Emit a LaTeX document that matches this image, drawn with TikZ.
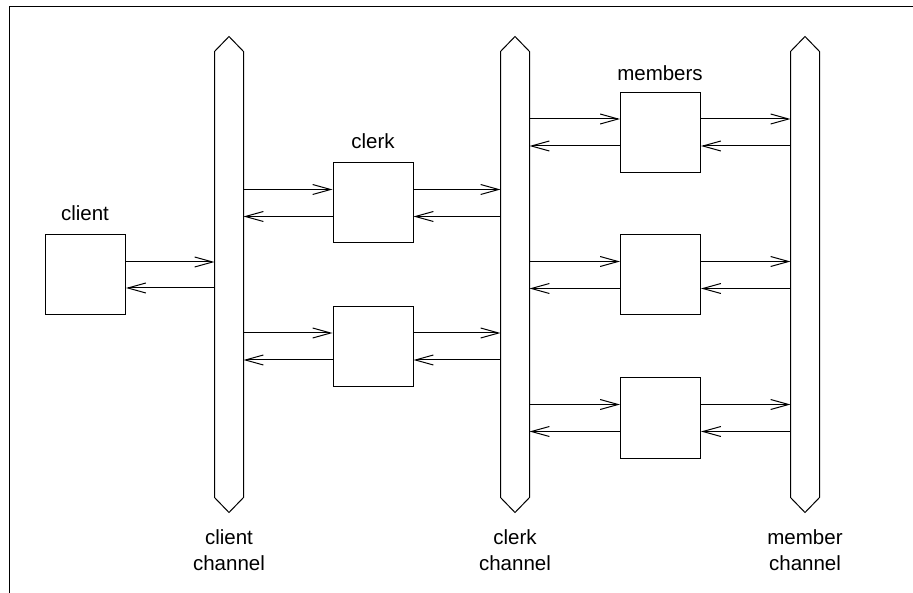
\documentclass[tikz,border=0pt]{standalone}
\usepackage{fontspec}
\setmainfont{Liberation Sans}
\usetikzlibrary{arrows.meta}

\begin{document}
\begin{tikzpicture}[x=1pt,y=-1pt,
    line width=1pt,
    every node/.style={font=\fontsize{20.5}{26}\selectfont, inner sep=0pt},
    proc/.style={draw, minimum width=80pt, minimum height=80pt},
    channel/.style={minimum width=28pt, minimum height=475pt},
    lbl/.style={align=center},
    msg/.style={-{Straight Barb[length=18pt,width=10pt,line width=1pt]}}]

  % canvas and frame
  \useasboundingbox (0,0) rectangle (913,593);
  \draw (913,7) -- (9,7) -- (9,593);

  % the three channels
  \node[channel] (cch) at (229,274.5) {};
  \node[channel] (kch) at (515,274.5) {};
  \node[channel] (mch) at (805,274.5) {};
  \foreach \c in {cch,kch,mch}
    \draw (\c.north) -- ([yshift=-15pt]\c.north east) -- ([yshift=15pt]\c.south east)
          -- (\c.south) -- ([yshift=15pt]\c.south west) -- ([yshift=-15pt]\c.north west) -- cycle;

  % processes
  \node[proc] (client) at (85.5,275) {};
  \node[proc] (clerkA) at (373,203) {};
  \node[proc] (clerkB) at (373,346.5) {};
  \node[proc] (memA) at (660.5,132.5) {};
  \node[proc] (memB) at (660.5,275) {};
  \node[proc] (memC) at (660.5,418) {};

  % labels
  \node (tclient) at (85,213) {client};
  \node (tclerk) at (373,141) {clerk};
  \node (tmembers) at (660,73) {members};
  \node[lbl] (tcch) at (229,550) {client\\channel};
  \node[lbl] (tkch) at (515,550) {clerk\\channel};
  \node[lbl] (tmch) at (805,550) {member\\channel};

  % client <-> client channel
  \draw[msg] ([yshift=13pt]client.east) coordinate (a) -- (a -| cch.west);
  \draw[msg] ([yshift=-13pt]client.east -| cch.west) -- ([yshift=-13pt]client.east);

  % clerks between client channel and clerk channel
  \foreach \b in {clerkA,clerkB} {
    \draw[msg] ([yshift=13.5pt]\b.west -| cch.east) -- ([yshift=13.5pt]\b.west);
    \draw[msg] ([yshift=-13.5pt]\b.west) coordinate (a) -- (a -| cch.east);
    \draw[msg] ([yshift=13.5pt]\b.east) coordinate (a) -- (a -| kch.west);
    \draw[msg] ([yshift=-13.5pt]\b.east -| kch.west) -- ([yshift=-13.5pt]\b.east);
  }

  % members between clerk channel and member channel
  \foreach \b in {memA,memB,memC} {
    \draw[msg] ([yshift=13.5pt]\b.west -| kch.east) -- ([yshift=13.5pt]\b.west);
    \draw[msg] ([yshift=-13.5pt]\b.west) coordinate (a) -- (a -| kch.east);
    \draw[msg] ([yshift=13.5pt]\b.east) coordinate (a) -- (a -| mch.west);
    \draw[msg] ([yshift=-13.5pt]\b.east -| mch.west) -- ([yshift=-13.5pt]\b.east);
  }
\end{tikzpicture}
\end{document}
